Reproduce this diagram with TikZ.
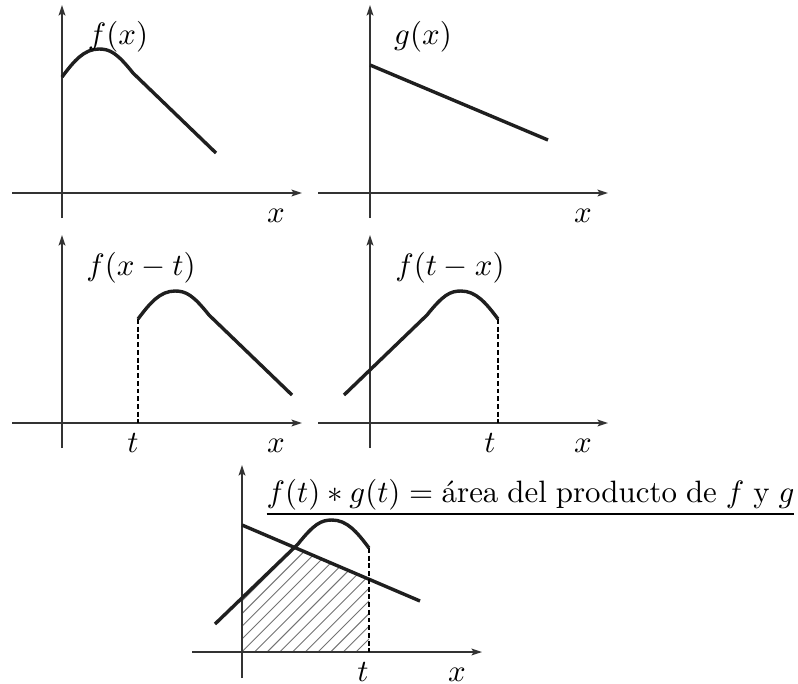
\documentclass[tikz,border=0pt]{standalone}
\usepackage{fontspec}
\usetikzlibrary{arrows.meta}
\tikzset{
  axis/.style={draw=black!80,line width=0.5pt,-{Stealth[length=3.4pt,width=2.2pt,inset=0.7pt]}},
  curve/.style={draw=black!88,line width=1.1pt,line join=round},
  guide/.style={draw=black,line width=0.35pt,dash pattern=on 1.6pt off 0.9pt},
  hatch/.style={draw=black!55,line width=0.3pt},
  lab/.style={inner sep=0pt,anchor=base},
  fpic/.pic={\draw[curve] (0,0) .. controls (12,-16) and (22,-28) .. (37,-28)
     .. controls (48,-28) and (55,-24) .. (71,-4) -- (154,76);}
}
\begin{document}
\begin{tikzpicture}[x=0.3236pt,y=-0.3236pt]
\useasboundingbox (0,0) rectangle (798,683);
% ---------- panel 1 ----------
\draw[axis] (12,193) -- (302,193);
\draw[axis] (62,218) -- (62,5);
\pic at (62,77) {fpic};
\node[lab] (lf) at (118,44) {$f(x)$};
\node[lab] (x1) at (276,222) {$x$};
% ---------- panel 2 ----------
\draw[axis] (318,193) -- (608,193);
\draw[axis] (370,218) -- (370,5);
\coordinate (g1a) at (370,65);
\coordinate (g1b) at (548,140);
\draw[curve] (g1a) -- (g1b);
\node[lab] (lg) at (423,44) {$g(x)$};
\node[lab] (x2) at (583,222) {$x$};
% ---------- panel 3 ----------
\draw[axis] (12,423) -- (302,423);
\draw[axis] (62,448) -- (62,235);
\coordinate (t3top) at (138,319);
\coordinate (t3bot) at (138,423);
\draw[guide] (t3top) -- (t3bot);
\pic at (t3top) {fpic};
\node[lab] (lfxt) at (141,275) {$f(x-t)$};
\node[lab] (t3) at (133,452) {$t$};
\node[lab] (x3) at (276,452) {$x$};
% ---------- panel 4 ----------
\draw[axis] (318,423) -- (608,423);
\draw[axis] (370,448) -- (370,235);
\coordinate (t4top) at (498,319);
\coordinate (t4bot) at (498,423);
\draw[guide] (t4top) -- (t4bot);
\pic[xscale=-1] at (t4top) {fpic};
\node[lab] (lftx) at (450,275) {$f(t-x)$};
\node[lab] (t4) at (490,452) {$t$};
\node[lab] (x4) at (583,452) {$x$};
% ---------- panel 5 ----------
\begin{scope}
  \clip (242,652) rectangle (369,400);
  \clip (230,520) -- (430,605) -- (430,700) -- (230,700) -- cycle;
  \clip (369,548) .. controls (357,532) and (347,520) .. (332,520)
        .. controls (321,520) and (314,524) .. (298,544) -- (215,624)
        -- (215,700) -- (369,700) -- cycle;
  \foreach \k in {0,...,24} \draw[hatch] ({102+\k*12.7},652) -- ++(330,-330);
\end{scope}
\draw[axis] (192,652) -- (482,652);
\draw[axis] (242,678) -- (242,465);
\coordinate (g5a) at (242,525);
\coordinate (g5b) at (420,601);
\draw[curve] (g5a) -- (g5b);
\coordinate (t5top) at (369,548);
\coordinate (t5bot) at (369,652);
\draw[guide] (t5top) -- (t5bot);
\pic[xscale=-1] at (t5top) {fpic};
\node[lab] (t5) at (363,681) {$t$};
\node[lab] (x5) at (457,681) {$x$};
\node[inner sep=0pt,anchor=base west] (conv) at (266,502)
  {\spaceskip=2.9pt plus 1pt minus 1pt\underline{$f(t)*g(t)={}$área del producto de $f$ y $g$}};
\end{tikzpicture}
\end{document}
